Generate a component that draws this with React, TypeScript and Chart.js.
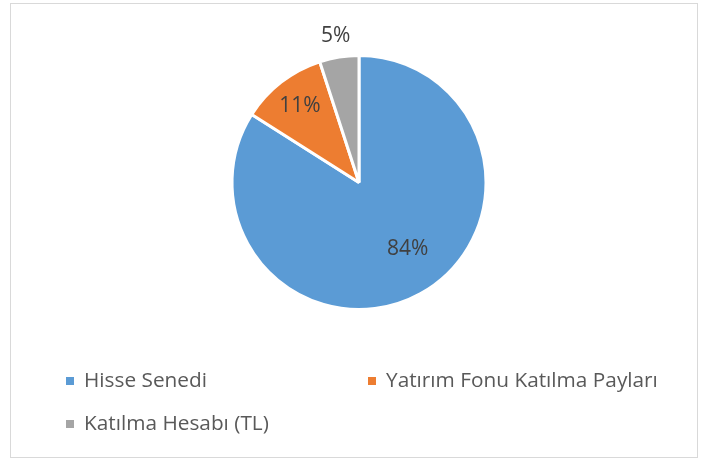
import React, { useEffect, useRef } from "react";
import { Chart, registerables } from "chart.js";

Chart.register(...registerables);

const categories = ["Hisse Senedi", "Yatırım Fonu Katılma Payları", "Katılma Hesabı (TL)"];
const values = [84, 11, 5];
const colors = ["#5B9BD5", "#ED7D31", "#A5A5A5"];
const labelRadius = [0.65, 0.76, 1.17];
const labelAngleShift = [-7.4, 0, 0];

const FONT = "'Open Sans', sans-serif";

const dataLabels = {
  id: "dataLabels",
  afterDatasetsDraw(chart: any) {
    const ctx = chart.ctx;
    const meta = chart.getDatasetMeta(0);
    const total = values.reduce((a, b) => a + b, 0);
    ctx.save();
    ctx.font = `21px ${FONT}`;
    ctx.fillStyle = "#404040";
    ctx.textAlign = "center";
    ctx.textBaseline = "middle";
    meta.data.forEach((arc: any, i: number) => {
      const p = arc.getProps(["x", "y", "startAngle", "endAngle", "outerRadius"], true);
      const mid = (p.startAngle + p.endAngle) / 2 + (labelAngleShift[i] * Math.PI) / 180;
      const r = p.outerRadius * labelRadius[i];
      const x = p.x + Math.cos(mid) * r;
      const y = p.y + Math.sin(mid) * r;
      ctx.fillText(Math.round((values[i] / total) * 100) + "%", x, y);
    });
    ctx.restore();
  },
};

const legendPlugin = {
  id: "customLegend",
  afterDraw(chart: any) {
    const ctx = chart.ctx;
    const cols = [55, 357];
    const rows = [377, 420];
    ctx.save();
    ctx.font = `20.8px ${FONT}`;
    ctx.textBaseline = "middle";
    ctx.textAlign = "left";
    categories.forEach((c, i) => {
      const x = cols[i % 2];
      const y = rows[Math.floor(i / 2)];
      ctx.fillStyle = colors[i];
      ctx.fillRect(x, y - 4, 8, 8);
      ctx.fillStyle = "#595959";
      ctx.fillText(c, x + 18, y);
    });
    ctx.restore();
  },
};

export default function App() {
  const ref = useRef<HTMLCanvasElement | null>(null);
  useEffect(() => {
    if (!ref.current) return;
    const chart = new Chart(ref.current, {
      type: "pie",
      data: {
        labels: categories,
        datasets: [
          {
            data: values,
            backgroundColor: colors,
            borderColor: "#ffffff",
            borderWidth: 3,
          },
        ],
      },
      options: {
        animation: false,
        responsive: false,
        maintainAspectRatio: false,
        layout: { padding: { top: 50, bottom: 146, left: 10, right: 0 } },
        plugins: {
          legend: { display: false },
          tooltip: { enabled: false },
        },
      },
      plugins: [dataLabels, legendPlugin],
    });
    return () => chart.destroy();
  }, []);
  return (
    <div
      style={{
        position: "fixed",
        left: 10,
        top: 3,
        width: 686,
        height: 453,
        border: "1px solid #D9D9D9",
        background: "#fff",
      }}
    >
      <canvas ref={ref} width={686} height={453} style={{ display: "block" }} />
    </div>
  );
}
